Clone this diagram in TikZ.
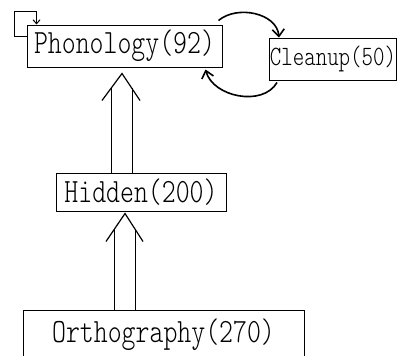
\documentclass[tikz,border=0pt]{standalone}
\usepackage{fontspec}
\newfontfamily\boxfont[FakeStretch=0.78]{lmmonolt10-regular.otf}
\usetikzlibrary{arrows.meta,positioning,calc}

\begin{document}
\begin{tikzpicture}[x=1pt,y=1pt,>={Straight Barb[length=7pt,width=12pt]},
  layer/.style={draw,line width=1pt,inner sep=0pt,font=\boxfont\fontsize{34}{38}\selectfont},
  feed/.style={->,line width=1.6pt},
  wire/.style={line width=1.2pt}]

\useasboundingbox (0,0) rectangle (399,-356);

\node[layer,minimum width=195,minimum height=42] (phon)  at (124.5,-46)  {Phonology(92)};
\node[layer,minimum width=127,minimum height=42,font=\boxfont\fontsize{28}{31}\selectfont] (clean) at (333,-59) {Cleanup(50)};
\node[layer,minimum width=170,minimum height=38] (hid)   at (141,-192)   {Hidden(200)};
\node[layer,minimum width=281,minimum height=50] (ortho) at (163.5,-335) {Orthography(270)};

%self loop on phonology
\draw[->,line width=1pt,>={Straight Barb[length=4pt,width=7pt]}] ([yshift=10pt]phon.west) -- ++(-12,0) -- ++(0,25) -- ++(22,0) -- ([xshift=10pt]phon.north west);

%phonology <-> cleanup
\draw[feed] ([xshift=-4pt,yshift=4pt]phon.north east) to[out=40,in=95] ([xshift=10pt]clean.north west);
\draw[feed] ([xshift=8pt,yshift=-2pt]clean.south west) to[out=-120,in=-75] ([xshift=-17pt,yshift=-2pt]phon.south east);

%hidden => phonology
\coordinate (upA) at ([shift={(-2.5,-6)}]phon.south);
\draw[wire] ([xshift=-10.5pt]upA |- hid.north) -- ([shift={(-10.5,-14)}]upA);
\draw[wire] ([xshift=10.5pt]upA |- hid.north) -- ([shift={(10.5,-14)}]upA);
\draw[wire] ([shift={(-20,-27)}]upA) -- (upA) -- ([shift={(18,-27)}]upA);

%orthography => hidden
\coordinate (lowA) at ([shift={(-16,-2)}]hid.south);
\draw[wire] ([xshift=-10.5pt]lowA |- ortho.north) -- ([shift={(-10.5,-15)}]lowA);
\draw[wire] ([xshift=10.5pt]lowA |- ortho.north) -- ([shift={(10.5,-15)}]lowA);
\draw[wire] ([shift={(-19,-28)}]lowA) -- (lowA) -- ([shift={(18,-28)}]lowA);

\end{tikzpicture}
\end{document}
